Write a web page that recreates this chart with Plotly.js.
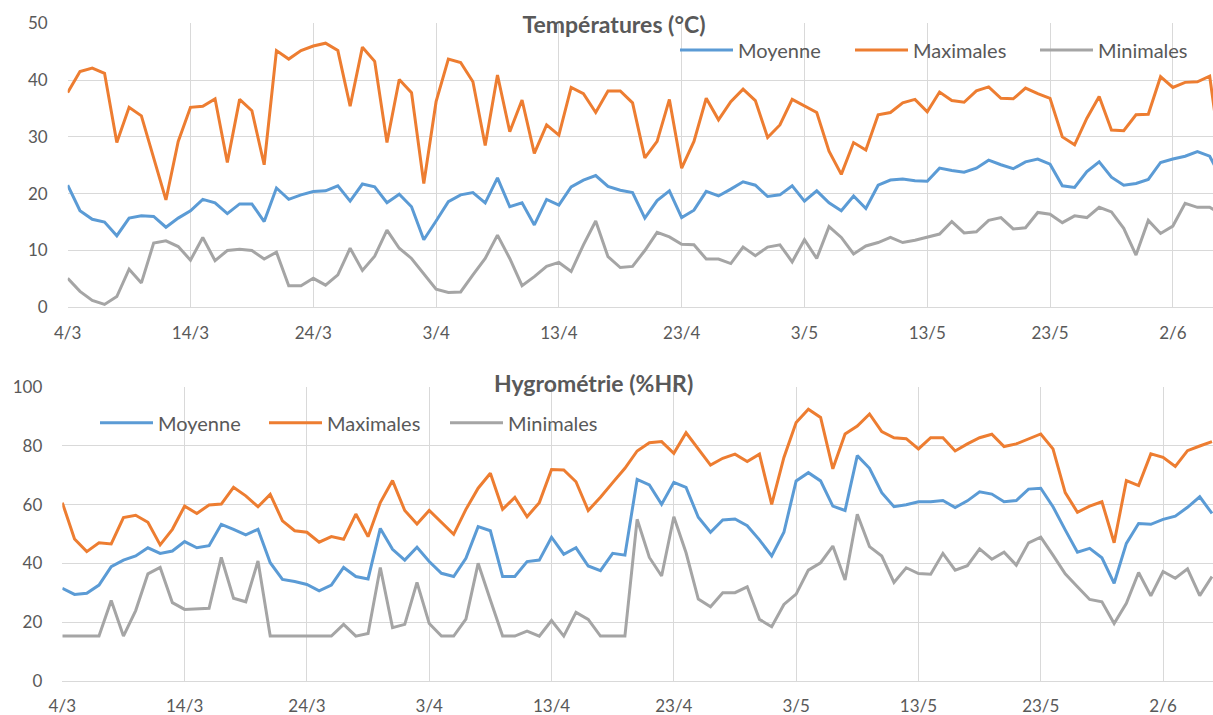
<!DOCTYPE html>
<html><head><meta charset="utf-8">
<script src="https://cdn.plot.ly/plotly-3.0.1.min.js"></script>
<style>html,body{margin:0;padding:0;background:#fff}#chart{width:1213px;height:715px}</style>
</head><body><div id="chart"></div>
<script>
const dates = [
"2021-03-04","2021-03-05","2021-03-06","2021-03-07","2021-03-08","2021-03-09","2021-03-10","2021-03-11","2021-03-12","2021-03-13",
"2021-03-14","2021-03-15","2021-03-16","2021-03-17","2021-03-18","2021-03-19","2021-03-20","2021-03-21","2021-03-22","2021-03-23",
"2021-03-24","2021-03-25","2021-03-26","2021-03-27","2021-03-28","2021-03-29","2021-03-30","2021-03-31","2021-04-01","2021-04-02",
"2021-04-03","2021-04-04","2021-04-05","2021-04-06","2021-04-07","2021-04-08","2021-04-09","2021-04-10","2021-04-11","2021-04-12",
"2021-04-13","2021-04-14","2021-04-15","2021-04-16","2021-04-17","2021-04-18","2021-04-19","2021-04-20","2021-04-21","2021-04-22",
"2021-04-23","2021-04-24","2021-04-25","2021-04-26","2021-04-27","2021-04-28","2021-04-29","2021-04-30","2021-05-01","2021-05-02",
"2021-05-03","2021-05-04","2021-05-05","2021-05-06","2021-05-07","2021-05-08","2021-05-09","2021-05-10","2021-05-11","2021-05-12",
"2021-05-13","2021-05-14","2021-05-15","2021-05-16","2021-05-17","2021-05-18","2021-05-19","2021-05-20","2021-05-21","2021-05-22",
"2021-05-23","2021-05-24","2021-05-25","2021-05-26","2021-05-27","2021-05-28","2021-05-29","2021-05-30","2021-05-31","2021-06-01",
"2021-06-02","2021-06-03","2021-06-04","2021-06-05","2021-06-06"];

const seriesNames = ["Moyenne", "Maximales", "Minimales"];

const tempMoyenne = [21.5,17.0,15.5,15.0,12.6,15.7,16.1,16.0,14.1,15.7,
17.0,19.0,18.4,16.5,18.2,18.2,15.1,21.0,19.0,19.8,
20.4,20.5,21.4,18.7,21.7,21.2,18.4,19.9,17.7,11.9,
15.2,18.6,19.8,20.2,18.4,22.8,17.7,18.4,14.5,19.0,
18.0,21.2,22.4,23.2,21.3,20.6,20.2,15.7,18.8,20.5,
15.8,17.1,20.4,19.6,20.8,22.1,21.5,19.5,19.8,21.4,
18.7,20.5,18.4,17.0,19.6,17.4,21.5,22.4,22.6,22.3,
22.2,24.5,24.1,23.8,24.5,25.9,25.1,24.4,25.6,26.1,
25.2,21.4,21.1,23.9,25.6,22.9,21.5,21.8,22.5,25.5,
26.1,26.6,27.4,26.6,22.5];

const tempMax = [37.8,41.5,42.1,41.2,29.0,35.2,33.7,26.5,18.9,29.2,
35.2,35.4,36.7,25.5,36.6,34.6,25.1,45.2,43.7,45.2,
46.0,46.5,45.2,35.4,45.8,43.3,29.0,40.1,37.8,21.8,
36.2,43.7,43.1,39.7,28.5,40.9,30.9,36.5,27.1,32.1,
30.3,38.7,37.6,34.3,38.1,38.1,36.0,26.3,29.2,36.6,
24.5,29.2,36.8,33.0,36.2,38.4,36.4,29.9,32.1,36.6,
35.4,34.3,27.5,23.4,29.0,27.7,33.9,34.3,36.0,36.6,
34.4,37.9,36.4,36.1,38.1,38.8,36.8,36.7,38.6,37.6,
36.8,30.0,28.6,33.3,37.1,31.2,31.1,33.9,34.0,40.6,
38.7,39.6,39.7,40.7,25.0];

const tempMin = [5.1,2.8,1.2,0.5,1.9,6.7,4.3,11.3,11.7,10.7,
8.3,12.3,8.2,10.0,10.2,10.0,8.5,9.7,3.8,3.8,
5.1,3.9,5.7,10.4,6.5,9.0,13.6,10.4,8.6,5.9,
3.2,2.6,2.7,5.7,8.6,12.7,8.6,3.8,5.4,7.2,
7.9,6.3,11.0,15.2,8.9,7.0,7.2,10.0,13.2,12.4,
11.1,11.0,8.5,8.5,7.7,10.6,9.1,10.6,11.0,8.0,
11.9,8.6,14.2,12.3,9.4,10.8,11.4,12.3,11.4,11.8,
12.3,12.9,15.1,13.1,13.3,15.3,15.8,13.8,14.0,16.7,
16.4,14.9,16.1,15.8,17.6,16.8,13.9,9.2,15.3,13.0,
14.3,18.3,17.6,17.6,16.3];

const hygroMoyenne = [31.5,29.4,29.8,32.6,38.9,41.1,42.5,45.3,43.4,44.2,
47.4,45.3,46.0,53.3,51.6,49.7,51.6,40.2,34.5,33.8,
32.8,30.6,32.6,38.6,35.5,34.7,51.9,44.8,41.1,45.5,
40.6,36.6,35.5,41.7,52.5,51.1,35.5,35.5,40.6,41.1,
48.9,43.1,45.3,39.1,37.5,43.4,42.8,68.6,66.7,60.1,
67.6,65.9,55.7,50.6,54.8,55.1,52.8,48.0,42.5,50.6,
68.1,70.9,68.1,59.5,58.0,76.7,72.4,64.1,59.3,60.0,
61.0,61.0,61.4,59.0,61.3,64.4,63.6,61.0,61.4,65.3,
65.6,59.3,51.4,43.8,45.1,41.9,33.2,46.8,53.6,53.3,
55.0,56.1,59.1,62.7,57.0];

const hygroMax = [60.7,48.3,44.0,47.0,46.6,55.6,56.4,54.0,46.3,51.6,
59.5,57.0,59.9,60.2,65.9,63.0,59.3,63.5,54.5,51.1,
50.6,47.2,49.1,48.2,56.8,49.1,60.7,68.2,58.0,53.4,
58.0,54.0,49.9,58.4,65.6,70.7,58.4,62.5,55.9,60.7,
72.0,71.8,67.8,58.0,62.5,67.5,72.4,78.3,81.1,81.5,
77.5,84.5,79.2,73.5,75.8,77.2,74.7,77.2,60.1,76.1,
88.0,92.5,89.7,72.2,84.1,86.8,90.9,84.9,82.8,82.5,
79.0,82.8,82.8,78.3,80.7,82.8,84.0,79.8,80.7,82.3,
84.1,79.0,64.1,57.4,59.5,61.0,47.0,68.2,66.5,77.3,
76.1,73.0,78.4,80.0,81.5];

const hygroMin = [15.2,15.2,15.2,15.2,27.3,15.2,23.9,36.4,38.6,26.6,
24.3,24.4,24.7,42.0,28.1,26.9,40.8,15.2,15.2,15.2,
15.2,15.2,15.2,19.2,15.2,16.1,38.6,18.1,19.2,33.5,
19.5,15.2,15.2,21.0,40.0,27.5,15.2,15.2,16.9,15.2,
20.5,15.2,23.3,20.9,15.2,15.2,15.2,55.0,42.0,35.7,
55.9,43.6,27.8,25.2,30.0,30.0,32.0,20.9,18.4,26.0,
29.5,37.7,40.2,45.9,34.3,56.7,45.7,42.5,33.5,38.5,
36.5,36.3,43.4,37.7,39.2,44.9,41.4,43.8,39.4,47.0,
48.9,42.8,36.4,32.0,27.7,26.9,19.5,26.4,36.9,28.9,
37.2,34.9,38.1,29.0,35.5];

const colors = ["#5B9BD5", "#ED7D31", "#A5A5A5"];
const FONT = 'Lato, "Open Sans", sans-serif';
const TXT = '#595959';
const GRID = '#D9D9D9';
const W = 1213, H = 715;

function mk(y, i, xa, ya, lg) {
  return {x: dates, y: y, type: 'scatter', mode: 'lines', name: seriesNames[i],
    xaxis: xa, yaxis: ya, legend: lg,
    line: {color: colors[i], width: 3}, hoverinfo: 'x+y+name'};
}

const data = [
  mk(tempMoyenne, 0, 'x', 'y', 'legend'),
  mk(tempMax, 1, 'x', 'y', 'legend2'),
  mk(tempMin, 2, 'x', 'y', 'legend3'),
  mk(hygroMoyenne, 0, 'x2', 'y2', 'legend4'),
  mk(hygroMax, 1, 'x2', 'y2', 'legend5'),
  mk(hygroMin, 2, 'x2', 'y2', 'legend6')
];

const tickFont = {family: FONT, size: 17, color: TXT};
function xax(dom, anchor, end) {
  return {domain: dom, anchor: anchor, type: 'date', range: ['2021-03-04', end],
    tick0: '2021-03-04', dtick: 10 * 86400000, tickformat: '%-d/%-m',
    showgrid: true, gridcolor: GRID, gridwidth: 1, showline: true, linecolor: GRID, linewidth: 1,
    zeroline: false, ticks: '', tickfont: tickFont, ticklabelstandoff: 10, fixedrange: true};
}
function yax(dom, anchor, max, dt) {
  return {domain: dom, anchor: anchor, range: [0, max], dtick: dt, tick0: 0,
    showgrid: true, gridcolor: GRID, gridwidth: 1, zeroline: false, showline: false,
    ticks: '', tickfont: tickFont, ticklabelstandoff: 19, fixedrange: true};
}
const legFont = {family: FONT, size: 20, color: TXT};
function leg(px, py) {
  return {orientation: 'h', x: (px - 5) / W, y: 1 - py / H, xanchor: 'left', yanchor: 'middle',
    font: legFont, bgcolor: 'rgba(0,0,0,0)', itemwidth: 53};
}
const titleFont = {family: FONT, size: 23, color: TXT};

const layout = {
  width: W, height: H,
  margin: {l: 0, r: 0, t: 0, b: 0},
  paper_bgcolor: '#fff', plot_bgcolor: '#fff',
  showlegend: true,
  title: {text: '<b>Températures (°C)</b>', x: 614 / W, y: 1 - 25 / H, xref: 'paper', yref: 'container',
    xanchor: 'center', yanchor: 'middle', font: titleFont},
  xaxis: xax([67.7 / W, 1], 'y', '2021-06-05 06:29'),
  yaxis: yax([1 - 307.3 / H, 1 - 23.3 / H], 'x', 50, 10),
  xaxis2: xax([62.3 / W, 1], 'y2', '2021-06-06 02:00'),
  yaxis2: yax([1 - 680.7 / H, 1 - 387.3 / H], 'x2', 100, 20),
  legend: leg(680, 50),
  legend2: leg(855, 50),
  legend3: leg(1040, 50),
  legend4: leg(100, 422.7),
  legend5: leg(269, 422.7),
  legend6: leg(450, 422.7),
  annotations: [{text: '<b>Hygrométrie (%HR)</b>', x: 593 / W, y: 1 - 383 / H, xref: 'paper', yref: 'paper',
    xanchor: 'center', yanchor: 'middle', showarrow: false, font: titleFont}],
  hovermode: 'closest'
};

Plotly.newPlot('chart', data, layout, {displayModeBar: false, responsive: false});
</script></body></html>
